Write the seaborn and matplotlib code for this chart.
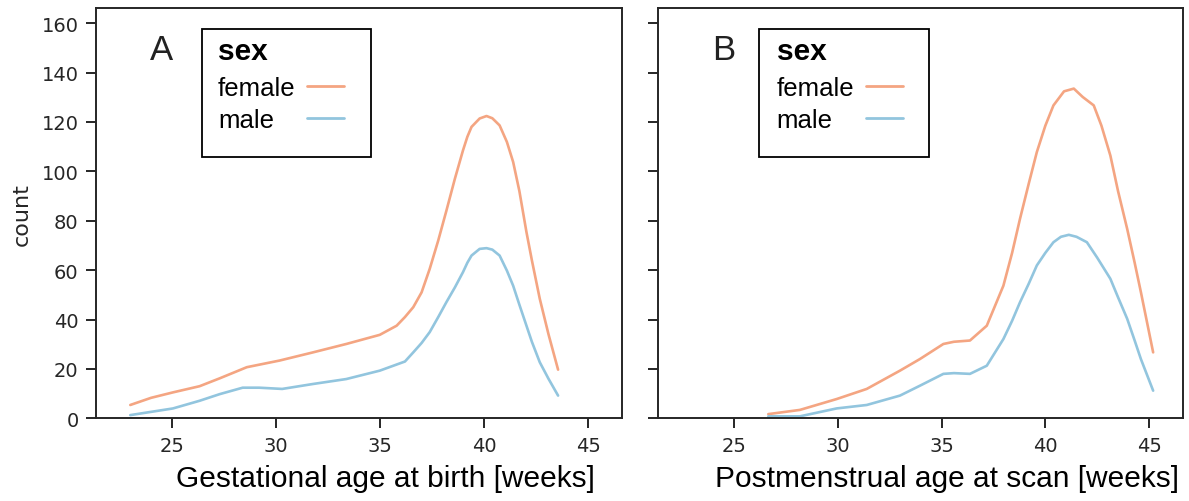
import numpy as np
import pandas as pd
import matplotlib
matplotlib.use("Agg")
import matplotlib.pyplot as plt
from matplotlib.lines import Line2D
from matplotlib.patches import Rectangle
import seaborn as sns

# panel A: gestational age at birth
ga_weeks_female = [23.0, 24.0, 25.05, 26.33, 27.3, 28.6, 30.18, 31.78, 33.38, 34.99, 35.8,
                   36.2, 36.6, 37.0, 37.39, 37.8, 38.19, 38.6, 38.99, 39.2, 39.4, 39.79,
                   40.12, 40.4, 40.75, 41.1, 41.4, 41.7, 42.04, 42.3, 42.68, 43.1, 43.56]
ga_count_female = [5.4, 8.3, 10.5, 13.0, 16.2, 20.7, 23.4, 26.7, 30.1, 33.8, 37.5,
                   41.0, 45.0, 51.0, 60.5, 72.0, 84.0, 97.0, 108.5, 114.0, 118.0, 121.4,
                   122.4, 121.5, 118.6, 111.9, 103.8, 92.0, 75.4, 64.0, 48.4, 34.0, 19.7]
ga_weeks_male = [23.0, 25.05, 26.33, 27.3, 28.4, 29.2, 30.3, 31.78, 33.38, 34.99,
                 36.2, 36.6, 37.0, 37.39, 37.8, 38.19, 38.6, 38.99, 39.2, 39.4, 39.79,
                 40.12, 40.4, 40.75, 41.1, 41.4, 41.7, 42.04, 42.3, 42.68, 43.1, 43.56]
ga_count_male = [1.3, 4.0, 7.1, 9.8, 12.4, 12.4, 11.9, 13.9, 15.9, 19.3,
                 23.0, 26.7, 30.5, 34.9, 41.0, 47.0, 53.0, 59.2, 63.0, 65.9, 68.6,
                 68.9, 68.3, 65.9, 59.8, 53.7, 46.0, 37.5, 31.0, 22.7, 16.0, 9.2]

# panel B: postmenstrual age at scan
pma_weeks_female = [26.66, 28.18, 29.95, 31.4, 33.0, 33.96, 35.09, 35.6, 36.37, 37.18,
                    37.98, 38.4, 38.78, 39.2, 39.59, 40.0, 40.39, 40.9, 41.37, 41.8,
                    42.33, 42.7, 43.13, 43.5, 43.94, 44.3, 44.6, 45.19]
pma_count_female = [1.7, 3.4, 7.8, 11.9, 19.3, 24.0, 30.1, 31.0, 31.5, 37.5,
                    53.7, 67.0, 80.8, 95.0, 107.8, 118.5, 126.7, 132.4, 133.5, 130.1,
                    126.7, 118.5, 106.4, 92.0, 76.7, 63.0, 51.1, 26.7]
pma_weeks_male = [26.66, 28.18, 29.95, 31.4, 33.0, 33.96, 35.09, 35.6, 36.37, 37.18,
                  37.98, 38.4, 38.78, 39.2, 39.59, 40.0, 40.39, 40.75, 41.13, 41.5,
                  42.0, 42.5, 43.13, 43.5, 43.94, 44.3, 44.6, 45.19]
pma_count_male = [0.8, 0.8, 4.0, 5.4, 9.2, 13.2, 18.0, 18.3, 18.0, 21.3,
                  32.1, 39.5, 47.0, 54.5, 61.9, 67.0, 71.3, 73.5, 74.3, 73.5,
                  71.3, 65.0, 56.5, 49.0, 40.3, 31.5, 24.0, 11.2]

sexes = ["female", "male"]
palette = {"female": "#f4a582", "male": "#92c5de"}
panel_labels = ["A", "B"]
x_labels = ["Gestational age at birth [weeks]", "Postmenstrual age at scan [weeks]"]


def make_frame(wf, cf, wm, cm):
    f = pd.DataFrame({"weeks": wf, "count": cf, "sex": "female"})
    m = pd.DataFrame({"weeks": wm, "count": cm, "sex": "male"})
    return pd.concat([f, m], ignore_index=True)


frames = [
    make_frame(ga_weeks_female, ga_count_female, ga_weeks_male, ga_count_male),
    make_frame(pma_weeks_female, pma_count_female, pma_weeks_male, pma_count_male),
]

sns.set_theme(style="ticks")
plt.rcParams["font.family"] = ["DejaVu Sans"]
plt.rcParams["axes.edgecolor"] = "#262626"
plt.rcParams["axes.linewidth"] = 1.4

fig = plt.figure(figsize=(11.89, 5.02), dpi=100)
ax_a = fig.add_axes([0.0807, 0.1647, 0.4424, 0.8167])
ax_b = fig.add_axes([0.5534, 0.1647, 0.4416, 0.8167], sharex=ax_a, sharey=ax_a)

# legend box (axes fraction: x0, x1) and text start per panel
box_x = [(0.2015, 0.5228), (0.193, 0.517)]
text_x = [0.232, 0.226]
legends = []

for i, (ax, df, lab, xl) in enumerate(zip([ax_a, ax_b], frames, panel_labels, x_labels)):
    sns.lineplot(data=df, x="weeks", y="count", hue="sex", hue_order=sexes,
                 palette=palette, linewidth=1.9, ax=ax, legend=False)
    ax.set_xlim(21.35, 46.63)
    ax.set_ylim(0, 166)
    ax.set_xticks([25, 30, 35, 40, 45])
    ax.set_yticks(np.arange(0, 161, 20))
    ax.tick_params(axis="both", length=7.5, width=1.4, pad=5, labelsize=14,
                   colors="#262626")
    ax.set_xlabel(xl, fontsize=21.5, family="Liberation Sans", color="black")
    ax.xaxis.set_label_coords(0.551, -0.112)
    ax.text(0.103, 0.876, lab, transform=ax.transAxes, fontsize=25,
            family="Liberation Sans", color="#222222")

    x0, x1 = box_x[i]
    ax.add_patch(Rectangle((x0, 0.6373), x1 - x0, 0.9502 - 0.6373,
                           transform=ax.transAxes, fill=True, facecolor="white",
                           edgecolor="black", linewidth=1.3, zorder=4))

    handles = [Line2D([], [], color=palette[s], linewidth=2.0) for s in sexes]
    leg = ax.legend(handles, sexes, title="sex", loc="upper left",
                    bbox_to_anchor=(text_x[i], 0.931), markerfirst=False,
                    frameon=False, borderpad=0, borderaxespad=0,
                    handlelength=1.45, handletextpad=0.45, labelspacing=0.31,
                    alignment="left", labelcolor="black",
                    prop={"family": "Liberation Sans", "size": 18.5},
                    title_fontproperties={"family": "Liberation Sans",
                                          "weight": "bold", "size": 21.5})
    leg.get_title().set_color("black")
    leg._legend_box.sep = 8.5
    leg.set_zorder(5)
    legends.append(leg)

ax_a.set_ylabel("count", fontsize=16, color="#262626")
ax_a.yaxis.set_label_coords(-0.122, 0.5)
ax_b.set_ylabel("")
plt.setp(ax_b.get_yticklabels(), visible=False)

# left-align the labels and keep the handles in one column
fig.canvas.draw()
for leg in legends:
    texts = leg.get_texts()
    widths = [t.get_window_extent().width for t in texts]
    column = leg._legend_handle_box.get_children()[0]
    column.align = "left"
    for row, w in zip(column.get_children(), widths):
        row.sep = row.sep + (max(widths) - w) * 72.0 / fig.dpi

fig.savefig("out.png", dpi=100)
